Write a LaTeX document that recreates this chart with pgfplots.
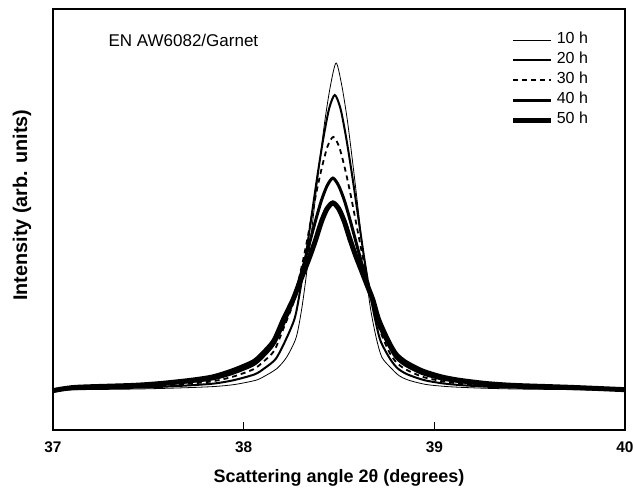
\documentclass[border=0pt]{standalone}
\usepackage{pgfplots}
\pgfplotsset{compat=1.18}
\usepackage{fontspec}
\setmainfont{Liberation Sans}
\begin{document}
\begin{tikzpicture}[x=1pt,y=1pt]
\useasboundingbox (0,0) rectangle (633,491);
\begin{axis}[
  at={(53pt,61pt)}, anchor=south west,
  scale only axis, width=572pt, height=421pt,
  xmin=37, xmax=40, ymin=-0.1223, ymax=1.165,
  xtick={37,38,39,40}, ytick=\empty,
  xtick pos=bottom, tick align=inside,
  major tick length=8pt,
  tick style={black, line width=1pt},
  axis line style={black, line width=1.2pt},
  /pgf/number format/assume math mode=true,
  xticklabel style={font=\fontsize{15.4}{17}\selectfont\bfseries, yshift=-8.5pt},
  xlabel={Scattering angle 2θ (degrees)},
  ylabel={Intensity (arb. units)},
  xlabel style={font=\fontsize{18}{21}\selectfont\bfseries, at={(axis description cs:0.5,-0.114)}, anchor=center},
  ylabel style={font=\fontsize{19.8}{22}\selectfont\bfseries, at={(axis description cs:-0.054,0.534)}, anchor=center},
  legend cell align=left,
  legend image code/.code={\draw[#1] (0pt,0pt) -- (38pt,0pt); \path (41pt,0pt);},
  legend style={draw=none, fill=none, at={(axis description cs:0.800,0.95)}, anchor=north west,
    font=\fontsize{16}{19}\selectfont, inner sep=0pt, row sep=0pt,
    nodes={inner sep=0pt, text height=13pt, text depth=7pt}},
  no markers,
  every axis plot/.append style={smooth, tension=0.45},
]
\addplot[black, line width=0.8pt] coordinates {
(37,0) (37.135,0.001) (37.435,0.003) (37.585,0.005) (37.745,0.008) (37.855,0.011) (37.955,0.017) (38.065,0.03) (38.115,0.044) (38.175,0.066) (38.225,0.10) (38.275,0.16) (38.305,0.25) (38.335,0.38) (38.365,0.53) (38.395,0.68) (38.425,0.82) (38.455,0.93) (38.485,1.0)
(38.515,0.93) (38.545,0.82) (38.575,0.68) (38.605,0.53) (38.635,0.38) (38.665,0.25) (38.695,0.16) (38.725,0.10) (38.775,0.066) (38.815,0.044) (38.865,0.03) (38.955,0.017) (39.055,0.011) (39.145,0.008) (39.285,0.005) (39.435,0.003) (39.735,0.001) (40,0)
};
\addlegendentry{10 h}
\addplot[black, line width=2pt] coordinates {
(37,0) (37.128,0.003) (37.428,0.007) (37.578,0.01) (37.738,0.015) (37.848,0.02) (37.948,0.03) (38.058,0.048) (38.108,0.066) (38.168,0.095) (38.218,0.15) (38.268,0.22) (38.298,0.31) (38.328,0.42) (38.358,0.54) (38.388,0.66) (38.418,0.77) (38.448,0.86) (38.478,0.902)
(38.508,0.86) (38.538,0.77) (38.568,0.66) (38.598,0.54) (38.628,0.42) (38.658,0.31) (38.688,0.22) (38.718,0.15) (38.768,0.095) (38.808,0.066) (38.858,0.048) (38.948,0.03) (39.048,0.02) (39.138,0.015) (39.278,0.01) (39.428,0.007) (39.728,0.003) (40,0)
};
\addlegendentry{20 h}
\addplot[black, line width=1.8pt, dash pattern=on 5pt off 4pt] coordinates {
(37,0) (37.12,0.004) (37.42,0.009) (37.57,0.013) (37.73,0.02) (37.84,0.027) (37.94,0.04) (38.05,0.063) (38.10,0.085) (38.16,0.12) (38.21,0.19) (38.26,0.265) (38.29,0.34) (38.32,0.42) (38.35,0.51) (38.38,0.60) (38.41,0.68) (38.44,0.745) (38.47,0.774)
(38.50,0.745) (38.53,0.68) (38.56,0.60) (38.59,0.51) (38.62,0.42) (38.65,0.34) (38.68,0.265) (38.71,0.19) (38.76,0.12) (38.80,0.085) (38.85,0.063) (38.94,0.04) (39.04,0.027) (39.13,0.02) (39.27,0.013) (39.42,0.009) (39.72,0.004) (40,0)
};
\addlegendentry{30 h}
\addplot[black, line width=3pt] coordinates {
(37,0) (37.118,0.007) (37.418,0.012) (37.568,0.017) (37.728,0.026) (37.838,0.034) (37.938,0.05) (38.048,0.076) (38.098,0.10) (38.158,0.14) (38.208,0.20) (38.258,0.27) (38.288,0.33) (38.318,0.39) (38.348,0.455) (38.378,0.52) (38.408,0.58) (38.438,0.625) (38.468,0.648)
(38.498,0.625) (38.528,0.58) (38.558,0.52) (38.588,0.455) (38.618,0.39) (38.648,0.33) (38.678,0.27) (38.708,0.20) (38.758,0.14) (38.798,0.10) (38.848,0.076) (38.938,0.05) (39.038,0.034) (39.128,0.026) (39.268,0.017) (39.418,0.012) (39.718,0.007) (40,0)
};
\addlegendentry{40 h}
\addplot[black, line width=5pt] coordinates {
(37,-0.002) (37.118,0.008) (37.418,0.014) (37.568,0.02) (37.728,0.03) (37.838,0.04) (37.938,0.058) (38.048,0.085) (38.098,0.11) (38.158,0.15) (38.208,0.215) (38.258,0.275) (38.288,0.32) (38.318,0.365) (38.348,0.41) (38.378,0.46) (38.408,0.515) (38.438,0.555) (38.468,0.572)
(38.498,0.555) (38.528,0.515) (38.558,0.46) (38.588,0.41) (38.618,0.365) (38.648,0.32) (38.678,0.275) (38.708,0.215) (38.758,0.15) (38.798,0.11) (38.848,0.085) (38.938,0.058) (39.038,0.04) (39.128,0.03) (39.268,0.02) (39.418,0.014) (39.718,0.008) (40,0.001)
};
\addlegendentry{50 h}
\node[anchor=west, font=\fontsize{17}{20}\selectfont] at (axis description cs:0.091,0.926) {EN AW6082/Garnet};
\end{axis}
\end{tikzpicture}
\end{document}
